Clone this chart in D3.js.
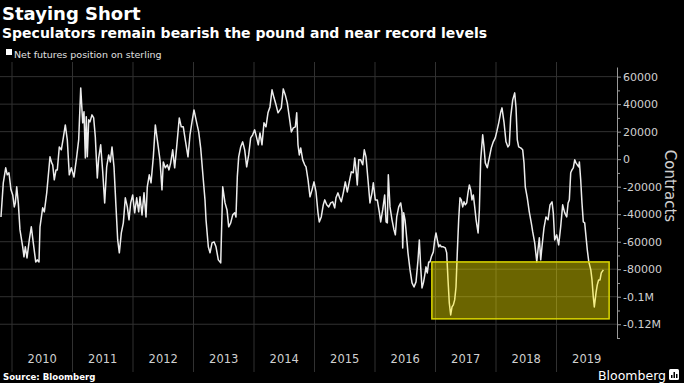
<!DOCTYPE html>
<html lang="en">
<head>
  <meta charset="utf-8">
  <script src="https://d3js.org/d3.v7.min.js"></script>
  <style>
    body { margin: 0; background: #000; }
    text { font-family: "DejaVu Sans", sans-serif; }
  </style>
</head>
<body>
<script>

// weekly-ish net futures position on sterling, [decimal year, contracts]
var positions = [
  [2009.818,-42000],[2009.856,-17200],[2009.896,-6300],[2009.922,-11400],[2009.950,-9900],[2009.983,-22300],
  [2010.012,-26000],[2010.038,-34700],[2010.055,-31800],[2010.078,-20100],[2010.104,-31800],[2010.132,-51400],
  [2010.177,-63700],[2010.198,-71000],[2010.220,-63700],[2010.248,-71800],[2010.286,-58700],[2010.319,-49200],
  [2010.352,-60800],[2010.392,-74700],[2010.418,-73200],[2010.446,-74700],[2010.463,-49200],[2010.507,-35400],
  [2010.534,-38300],[2010.574,-24500],[2010.628,1700],[2010.656,-2700],[2010.673,-4100],[2010.699,-15000],
  [2010.727,-7800],[2010.749,-7800],[2010.782,8900],[2010.815,6800],[2010.848,15500],[2010.881,24900],
  [2010.914,14000],[2010.947,-11400],[2010.980,-6300],
  [2011.025,-12900],[2011.069,1700],[2011.102,14000],[2011.136,51800],[2011.169,26400],[2011.190,34400],
  [2011.212,900],[2011.228,30800],[2011.245,1700],[2011.268,28600],[2011.289,27100],[2011.322,32200],
  [2011.350,30000],[2011.377,16200],[2011.410,-13600],[2011.433,900],[2011.466,10400],[2011.499,-9000],
  [2011.532,-31800],[2011.565,-5600],[2011.598,3100],[2011.625,-2000],[2011.653,8900],[2011.686,-5600],
  [2011.719,-34700],[2011.747,-58700],[2011.774,-68100],[2011.807,-53600],[2011.840,-46300],[2011.873,-28100],
  [2011.906,-34700],[2011.934,-44100],[2011.962,-31800],[2011.995,-26000],
  [2012.028,-39000],[2012.061,-28100],[2012.094,-38300],[2012.116,-27400],[2012.149,-40500],[2012.182,-24500],
  [2012.215,-42000],[2012.236,-20100],[2012.269,-11400],[2012.298,-17200],[2012.336,1700],[2012.369,24900],
  [2012.402,14000],[2012.446,-500],[2012.479,-22300],[2012.501,-2000],[2012.534,-6300],[2012.567,-4100],
  [2012.595,-7800],[2012.623,-2700],[2012.656,6800],[2012.689,-6300],[2012.722,8900],[2012.765,30000],
  [2012.798,23500],[2012.831,23500],[2012.864,14000],[2012.909,1700],[2012.942,17700],[2012.975,27100],
  [2013.008,35800],[2013.053,26400],[2013.086,19800],[2013.119,8000],[2013.162,-15000],[2013.190,-29600],
  [2013.207,-44100],[2013.245,-63700],[2013.273,-68100],[2013.306,-60800],[2013.339,-60100],[2013.372,-63700],
  [2013.410,-73200],[2013.450,-75400],[2013.483,-20100],[2013.521,-31800],[2013.554,-36900],[2013.582,-49200],
  [2013.615,-46300],[2013.648,-40500],[2013.681,-39000],[2013.702,-42000],[2013.724,-12900],[2013.747,1700],
  [2013.780,8900],[2013.813,12600],[2013.846,6800],[2013.879,-5600],[2013.912,3100],[2013.945,15500],
  [2013.978,17700],
  [2014.011,21300],[2014.044,15500],[2014.071,10400],[2014.099,19100],[2014.132,10400],[2014.165,26400],
  [2014.198,23500],[2014.231,33700],[2014.264,38000],[2014.298,50400],[2014.331,44600],[2014.364,39500],
  [2014.397,33700],[2014.430,35800],[2014.451,37300],[2014.484,51100],[2014.517,46700],[2014.550,40900],
  [2014.583,30800],[2014.617,19800],[2014.650,22800],[2014.683,23500],[2014.706,33700],[2014.727,10400],
  [2014.749,3100],[2014.772,8200],[2014.805,-500],[2014.838,-4100],[2014.860,-5600],[2014.893,-15000],
  [2014.926,-27400],[2014.959,-22300],[2014.992,-16500],
  [2015.025,-23800],[2015.058,-39000],[2015.079,-45600],[2015.112,-42000],[2015.145,-33200],[2015.169,-29600],
  [2015.202,-33200],[2015.235,-34700],[2015.268,-31800],[2015.301,-31000],[2015.334,-35400],[2015.355,-28100],
  [2015.388,-24500],[2015.410,-27400],[2015.443,-31000],[2015.476,-24500],[2015.509,-16500],[2015.542,-23800],
  [2015.575,-16500],[2015.608,-9200],[2015.641,-9900],[2015.665,900],[2015.686,-7800],[2015.707,-18700],
  [2015.731,-500],[2015.764,-500],[2015.797,-4100],[2015.823,6800],[2015.851,1700],[2015.884,-15000],
  [2015.917,-31800],[2015.950,-24500],[2015.972,-17200],
  [2016.005,-29600],[2016.038,-29600],[2016.071,-38300],[2016.094,-45600],[2016.127,-36900],[2016.160,-26000],
  [2016.183,-45600],[2016.204,-46300],[2016.220,-11400],[2016.248,-34700],[2016.281,-44100],[2016.314,-51400],
  [2016.336,-55000],[2016.359,-42000],[2016.392,-34700],[2016.425,-31800],[2016.446,-38300],[2016.458,-64500],
  [2016.474,-39000],[2016.496,-44100],[2016.512,-51400],[2016.545,-68100],[2016.579,-80500],[2016.612,-89900],
  [2016.645,-92900],[2016.678,-89200],[2016.711,-73200],[2016.733,-58700],[2016.755,-78300],[2016.777,-93600],
  [2016.800,-89900],[2016.823,-84100],[2016.843,-78300],[2016.864,-82700],[2016.888,-74700],[2016.909,-74700],
  [2016.931,-71000],[2016.964,-67400],[2016.987,-58700],
  [2017.008,-53600],[2017.030,-58700],[2017.053,-63700],[2017.074,-62300],[2017.096,-63700],[2017.129,-63700],
  [2017.162,-64500],[2017.185,-68100],[2017.207,-87800],[2017.228,-104500],[2017.251,-113200],[2017.273,-107400],
  [2017.295,-105900],[2017.317,-102300],[2017.339,-92900],[2017.360,-68100],[2017.383,-44100],[2017.405,-28100],
  [2017.426,-29600],[2017.450,-34700],[2017.471,-31000],[2017.493,-33200],[2017.516,-31800],[2017.537,-24500],
  [2017.560,-18700],[2017.582,-22300],[2017.603,-29600],[2017.625,-26000],[2017.648,-34700],[2017.671,-44100],
  [2017.704,-53600],[2017.725,-36900],[2017.747,-500],[2017.780,17700],[2017.802,8900],[2017.823,-2700],
  [2017.856,-6300],[2017.889,900],[2017.922,8200],[2017.955,12600],[2017.988,15500],
  [2018.012,19800],[2018.045,26400],[2018.079,34400],[2018.099,37300],[2018.132,27000],[2018.165,12600],
  [2018.198,8900],[2018.220,10400],[2018.243,30800],[2018.276,43100],[2018.309,48200],[2018.331,37300],
  [2018.352,14000],[2018.375,8900],[2018.408,8200],[2018.441,6800],[2018.463,-2700],[2018.484,-20100],
  [2018.517,-28100],[2018.550,-38300],[2018.583,-46300],[2018.607,-52900],[2018.640,-60800],[2018.674,-74700],
  [2018.694,-65900],[2018.716,-57200],[2018.739,-73200],[2018.760,-63700],[2018.793,-49900],[2018.826,-42000],
  [2018.860,-44100],[2018.893,-33200],[2018.926,-31000],[2018.947,-39000],[2018.970,-58700],
  [2019.003,-55000],[2019.036,-62300],[2019.069,-49200],[2019.102,-33200],[2019.136,-39000],[2019.169,-42000],
  [2019.192,-31800],[2019.212,-29600],[2019.235,-9900],[2019.256,-7800],[2019.278,-6300],[2019.301,-500],
  [2019.322,-2700],[2019.344,-4100],[2019.367,-5600],[2019.378,-2000],[2019.400,-15000],[2019.421,-31800],
  [2019.443,-45600],[2019.466,-46300],[2019.488,-56500],[2019.509,-65900],[2019.534,-74700],[2019.567,-80500],
  [2019.587,-87800],[2019.608,-100100],[2019.625,-107400],[2019.653,-97200],[2019.674,-91400],[2019.696,-87800],
  [2019.719,-87800],[2019.740,-82700],[2019.775,-80500]
];

var years = [2010, 2011, 2012, 2013, 2014, 2015, 2016, 2017, 2018, 2019];
var valueTicks = [60000, 40000, 20000, 0, -20000, -40000, -60000, -80000, -100000, -120000];
var minorTicks = [50000, 30000, 10000, -10000, -30000, -50000, -70000, -90000, -110000, -130000];

// highlighted "record shorts" zone
var boxYears = [2016.94, 2019.87];
var boxValues = [-74700, -116100];

var width = 684,
    height = 383;

var svg = d3.select("body").append("svg")
    .attr("width", width)
    .attr("height", height);

svg.append("rect")
    .attr("width", width)
    .attr("height", height)
    .attr("fill", "#000");

var x = d3.scaleLinear().domain([2010, 2020]).range([12, 617]);
var y = d3.scaleLinear().domain([-130000, 67000]).range([338, 67]);

// grid
svg.append("g").selectAll("line")
    .data(valueTicks)
  .enter().append("line")
    .attr("x1", 0).attr("x2", x(2020))
    .attr("y1", function(d) { return y(d); })
    .attr("y2", function(d) { return y(d); })
    .attr("stroke", "#313131");

svg.append("g").selectAll("line")
    .data(years)
  .enter().append("line")
    .attr("x1", function(d) { return x(d); })
    .attr("x2", function(d) { return x(d); })
    .attr("y1", 62).attr("y2", 372)
    .attr("stroke", "#313131");

// series
var line = d3.line()
    .x(function(d) { return x(d[0]); })
    .y(function(d) { return y(d[1]); });

svg.append("path")
    .datum(positions)
    .attr("d", line)
    .attr("fill", "none")
    .attr("stroke", "#ececec")
    .attr("stroke-width", 1.5)
    .attr("stroke-linejoin", "round");

// highlight box sits on top of the line
svg.append("rect")
    .attr("x", x(boxYears[0]))
    .attr("y", y(boxValues[0]))
    .attr("width", x(boxYears[1]) - x(boxYears[0]))
    .attr("height", y(boxValues[1]) - y(boxValues[0]))
    .attr("fill", "rgb(255,240,0)")
    .attr("fill-opacity", 0.42)
    .attr("stroke", "#ddd800")
    .attr("stroke-width", 1.5);

// right axis
function fmt(v) {
  if (Math.abs(v) >= 100000) return (v / 1e6) + "M";
  return String(v);
}

var yAxis = svg.append("g")
    .attr("transform", "translate(" + x(2020) + ",0)")
    .call(d3.axisRight(y).tickValues(valueTicks).tickFormat(fmt).tickSize(4).tickSizeOuter(0).tickPadding(2));

svg.append("g")
    .attr("transform", "translate(" + x(2020) + ",0)")
    .call(d3.axisRight(y).tickValues(minorTicks).tickFormat("").tickSize(3).tickSizeOuter(0))
    .select(".domain").remove();

svg.selectAll(".tick line").attr("stroke", "#999");
yAxis.select(".domain").attr("stroke", "#999");
yAxis.selectAll("text")
    .attr("fill", "#d0d0d0")
    .style("font-size", "11px")
    .style("font-family", "DejaVu Sans");

svg.append("text")
    .attr("transform", "translate(665,186) rotate(90)")
    .attr("text-anchor", "middle")
    .attr("fill", "#d0d0d0")
    .style("font-size", "15px")
    .text("Contracts");

// year labels
svg.append("g").selectAll("text")
    .data(years)
  .enter().append("text")
    .attr("x", function(d) { return x(d + 0.5); })
    .attr("y", 363)
    .attr("text-anchor", "middle")
    .attr("fill", "#d0d0d0")
    .style("font-size", "11.5px")
    .text(function(d) { return d; });

// titles
svg.append("text")
    .attr("x", 2).attr("y", 20)
    .attr("fill", "#fff")
    .style("font-size", "18px")
    .style("font-weight", "bold")
    .text("Staying Short");

svg.append("text")
    .attr("x", 2).attr("y", 38)
    .attr("fill", "#fff")
    .style("font-size", "14px")
    .style("font-weight", "bold")
    .text("Speculators remain bearish the pound and near record levels");

svg.append("rect")
    .attr("x", 6).attr("y", 49)
    .attr("width", 6).attr("height", 6)
    .attr("fill", "#fff");

svg.append("text")
    .attr("x", 14).attr("y", 58)
    .attr("fill", "#e0e0e0")
    .style("font-size", "9.5px")
    .text("Net futures position on sterling");

// footer
svg.append("text")
    .attr("x", 3).attr("y", 380)
    .attr("fill", "#fff")
    .style("font-size", "8.6px")
    .style("font-weight", "bold")
    .text("Source: Bloomberg");

svg.append("text")
    .attr("x", 666).attr("y", 380)
    .attr("text-anchor", "end")
    .attr("fill", "#fff")
    .style("font-size", "12.5px")
    .text("Bloomberg");

var logo = svg.append("g").attr("transform", "translate(669,369)");
logo.append("rect").attr("width", 10).attr("height", 11).attr("rx", 1.5).attr("fill", "#fff");
logo.append("rect").attr("x", 2).attr("y", 6).attr("width", 1.5).attr("height", 3).attr("fill", "#000");
logo.append("rect").attr("x", 4.5).attr("y", 3).attr("width", 1.5).attr("height", 6).attr("fill", "#000");
logo.append("rect").attr("x", 7).attr("y", 5).attr("width", 1.5).attr("height", 4).attr("fill", "#000");

</script>
</body>
</html>
